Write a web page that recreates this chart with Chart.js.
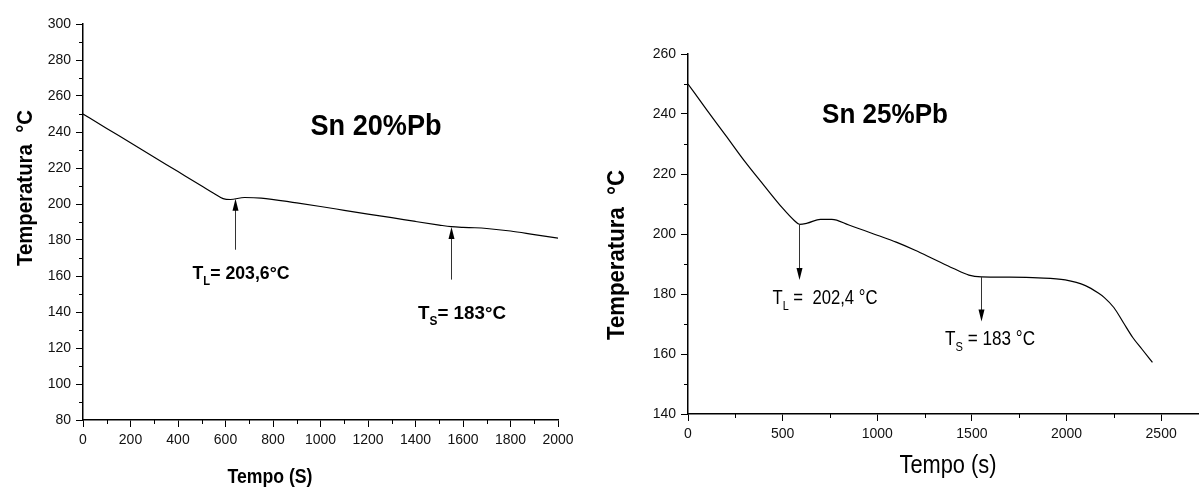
<!DOCTYPE html>
<html>
<head>
<meta charset="utf-8">
<script src="https://cdn.jsdelivr.net/npm/chart.js@4.4.0/dist/chart.umd.min.js"></script>
<style>
body { margin: 0; background: #fff; }
#left { position: absolute; left: 0; top: 0; width: 600px; height: 487px; }
#right { position: absolute; left: 600px; top: 0; width: 599px; height: 487px; }
</style>
</head>
<body>
<div id="left"><canvas id="chartLeft"></canvas></div>
<div id="right"><canvas id="chartRight"></canvas></div>
<script>
// Sn 20%Pb cooling curve
const time20 = [0, 100, 200, 300, 400, 500, 550, 590, 620, 680, 750, 900, 1000, 1100, 1200, 1300, 1400, 1500, 1550, 1600, 1650, 1700, 1800, 1900, 2000];
const temp20 = [250, 242, 234, 226, 218, 210, 206, 203, 202.5, 203.6, 203.3, 200.6, 198.6, 196.5, 194.4, 192.4, 190.3, 188.3, 187.4, 187, 186.8, 186.4, 185, 183, 181];
const xTicks20 = [0, 200, 400, 600, 800, 1000, 1200, 1400, 1600, 1800, 2000];
const yTicks20 = [80, 100, 120, 140, 160, 180, 200, 220, 240, 260, 280, 300];
const xMinor20 = [100, 300, 500, 700, 900, 1100, 1300, 1500, 1700, 1900];
const yMinor20 = [90, 110, 130, 150, 170, 190, 210, 230, 250, 270, 290];

// Sn 25%Pb cooling curve
const time25 = [0, 100, 200, 300, 400, 500, 560, 590, 630, 700, 760, 850, 1000, 1100, 1200, 1300, 1400, 1484, 1550, 1700, 1850, 1993, 2100, 2168, 2200, 2250, 2300, 2350, 2400, 2454];
const temp25 = [250, 241.3, 232.8, 224.2, 216.3, 208.6, 204.6, 203.2, 203.6, 204.9, 204.9, 203, 199.6, 197.3, 194.6, 191.6, 188.6, 186.3, 185.7, 185.6, 185.4, 184.7, 182.8, 180.3, 178.8, 175.5, 170.5, 165.5, 161.5, 157.2];
const xTicks25 = [0, 500, 1000, 1500, 2000, 2500];
const yTicks25 = [140, 160, 180, 200, 220, 240, 260];
const xMinor25 = [250, 750, 1250, 1750, 2250];
const yMinor25 = [150, 170, 190, 210, 230, 250];

// arrows: time, start temp, tip temp
const arrows20 = [{ t: 638, from: 174.6, to: 202.9 }, { t: 1551, from: 158, to: 187.2 }];
const arrows25 = [{ t: 589, from: 203.2, to: 184.7 }, { t: 1546, from: 185.7, to: 170.8 }];

const FONT = '"Liberation Sans", Arial, Helvetica, sans-serif';

function drawText(ctx, lab) {
    ctx.save();
    ctx.translate(lab.x, lab.y);
    if (lab.rot) ctx.rotate(-Math.PI / 2);
    const w = lab.bold ? 'bold ' : '';
    const big = w + lab.size + 'px ' + FONT;
    const small = w + Math.round(lab.size * 0.65) + 'px ' + FONT;
    let total = 0;
    lab.parts.forEach((p) => {
        ctx.font = p.sub ? small : big;
        total += ctx.measureText(p.t).width;
    });
    ctx.scale(lab.w / total, 1);
    let x = -total / 2;
    const base = lab.size * 0.36;
    ctx.fillStyle = '#000';
    ctx.textAlign = 'left';
    ctx.textBaseline = 'alphabetic';
    lab.parts.forEach((p) => {
        ctx.font = p.sub ? small : big;
        ctx.fillText(p.t, x, p.sub ? base + lab.size * 0.3 : base);
        x += ctx.measureText(p.t).width;
    });
    ctx.restore();
}

function makeExtras(cfg) {
    return {
        id: 'extras',
        afterDraw(chart) {
            const ctx = chart.ctx;
            const xs = chart.scales.x, ys = chart.scales.y;
            const area = chart.chartArea;
            ctx.save();
            // minor ticks
            ctx.strokeStyle = '#000';
            ctx.lineWidth = 1;
            ctx.beginPath();
            cfg.xMinor.forEach((v) => {
                const px = Math.round(xs.getPixelForValue(v)) + 0.5;
                ctx.moveTo(px, area.bottom);
                ctx.lineTo(px, area.bottom + 4);
            });
            cfg.yMinor.forEach((v) => {
                const py = Math.round(ys.getPixelForValue(v)) + 0.5;
                ctx.moveTo(area.left, py);
                ctx.lineTo(area.left - 4, py);
            });
            ctx.stroke();
            // arrows
            cfg.arrows.forEach((a) => {
                const px = Math.round(xs.getPixelForValue(a.t)) + 0.5;
                const y1 = ys.getPixelForValue(a.from);
                const y2 = ys.getPixelForValue(a.to);
                const dir = y2 > y1 ? 1 : -1;
                ctx.strokeStyle = '#333';
                ctx.lineWidth = 1;
                ctx.beginPath();
                ctx.moveTo(px, y1);
                ctx.lineTo(px, y2 - dir * 10);
                ctx.stroke();
                ctx.fillStyle = '#000';
                ctx.beginPath();
                ctx.moveTo(px, y2);
                ctx.lineTo(px - 3, y2 - dir * 12);
                ctx.lineTo(px + 3, y2 - dir * 12);
                ctx.closePath();
                ctx.fill();
            });
            cfg.labels.forEach((lab) => drawText(ctx, lab));
            ctx.restore();
        }
    };
}

function makeChart(id, times, temps, cfg) {
    const ctx = document.getElementById(id).getContext('2d');
    return new Chart(ctx, {
        type: 'scatter',
        data: {
            datasets: [{
                data: times.map((t, i) => ({ x: t, y: temps[i] })),
                showLine: true,
                borderColor: '#000',
                borderWidth: 1.2,
                pointRadius: 0,
                cubicInterpolationMode: 'monotone',
            }],
        },
        options: {
            responsive: true,
            maintainAspectRatio: false,
            animation: false,
            layout: { padding: cfg.padding },
            plugins: { legend: { display: false }, tooltip: { enabled: false } },
            scales: {
                x: {
                    type: 'linear',
                    min: cfg.xMin,
                    max: cfg.xMax,
                    afterBuildTicks: (s) => { s.ticks = cfg.xTicks.map((v) => ({ value: v })); },
                    afterFit: (s) => { s.height = cfg.xHeight; },
                    grid: { drawOnChartArea: false, tickLength: 7, color: '#000', lineWidth: 1 },
                    border: { color: '#000', width: 1.5 },
                    ticks: { color: '#111', padding: 5, maxRotation: 0, autoSkip: false, font: { family: FONT, size: 14 }, callback: (v) => String(v) },
                },
                y: {
                    type: 'linear',
                    min: cfg.yMin,
                    max: cfg.yMax,
                    afterBuildTicks: (s) => { s.ticks = cfg.yTicks.map((v) => ({ value: v })); },
                    afterFit: (s) => { s.width = cfg.yWidth; },
                    grid: { drawOnChartArea: false, tickLength: 7, color: '#000', lineWidth: 1 },
                    border: { color: '#000', width: 1.5 },
                    ticks: { color: '#111', padding: 5, autoSkip: false, font: { family: FONT, size: 14 }, callback: (v) => String(v) },
                },
            },
        },
        plugins: [makeExtras(cfg)],
    });
}

makeChart('chartLeft', time20, temp20, {
    padding: { top: 24, right: 42, bottom: 0, left: 0 },
    xMin: 0, xMax: 2000, yMin: 80, yMax: 300,
    xTicks: xTicks20, yTicks: yTicks20, xMinor: xMinor20, yMinor: yMinor20,
    xHeight: 67, yWidth: 83,
    arrows: arrows20,
    labels: [
        { parts: [{ t: 'Sn 20%Pb' }], x: 376, y: 124, w: 131, size: 30, bold: true },
        { parts: [{ t: 'Temperatura  °C' }], x: 24, y: 188, w: 156, size: 22, bold: true, rot: true },
        { parts: [{ t: 'Tempo (S)' }], x: 270, y: 475, w: 85, size: 21, bold: true },
        { parts: [{ t: 'T' }, { t: 'L', sub: true }, { t: '= 203,6°C' }], x: 241, y: 272, w: 97, size: 19, bold: true },
        { parts: [{ t: 'T' }, { t: 'S', sub: true }, { t: '= 183°C' }], x: 462, y: 312, w: 88, size: 19, bold: true },
    ],
});

makeChart('chartRight', time25, temp25, {
    padding: { top: 54, right: 0, bottom: 0, left: 0 },
    xMin: 0, xMax: 2700, yMin: 140, yMax: 260,
    xTicks: xTicks25, yTicks: yTicks25, xMinor: xMinor25, yMinor: yMinor25,
    xHeight: 73, yWidth: 88,
    arrows: arrows25,
    labels: [
        { parts: [{ t: 'Sn 25%Pb' }], x: 285, y: 113, w: 126, size: 28, bold: true },
        { parts: [{ t: 'Temperatura  °C' }], x: 16, y: 255, w: 170, size: 23, bold: true, rot: true },
        { parts: [{ t: 'Tempo (s)' }], x: 348, y: 464, w: 97, size: 25 },
        { parts: [{ t: 'T' }, { t: 'L', sub: true }, { t: ' =  202,4 °C' }], x: 225, y: 297, w: 105, size: 20 },
        { parts: [{ t: 'T' }, { t: 'S', sub: true }, { t: ' = 183 °C' }], x: 390, y: 338, w: 90, size: 20 },
    ],
});
</script>
</body>
</html>
